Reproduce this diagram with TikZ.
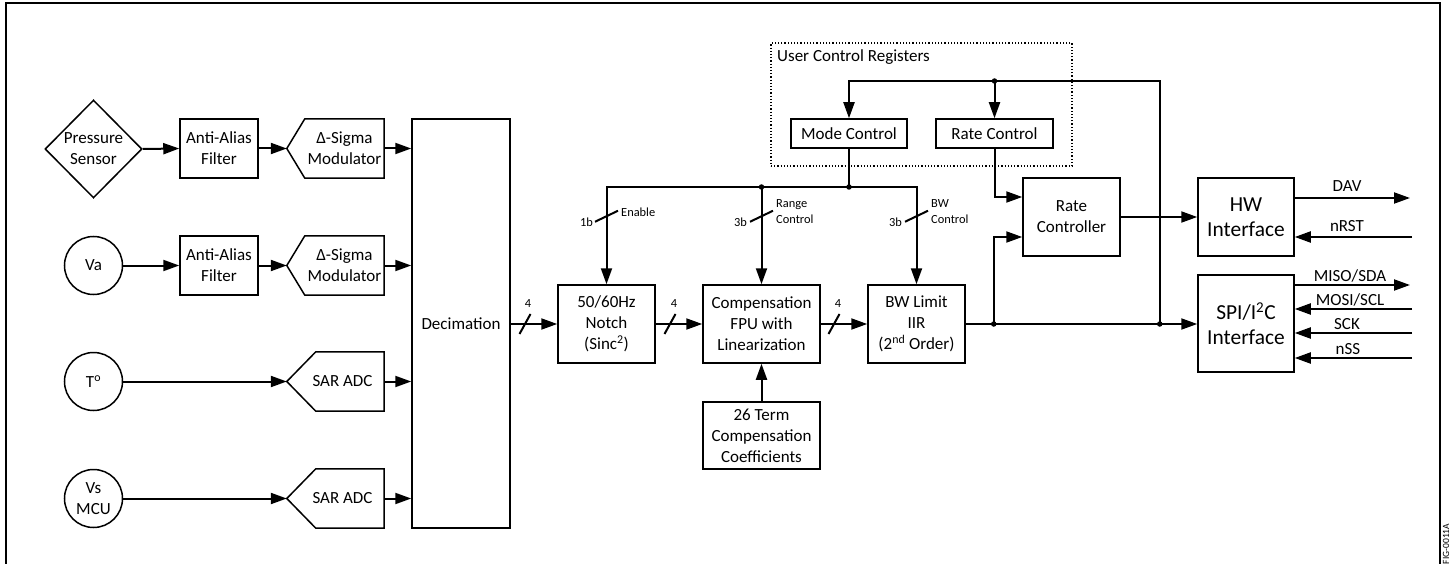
\documentclass[tikz,border=0pt]{standalone}
\usepackage{fontspec}
\setmainfont{Carlito}
\usetikzlibrary{arrows.meta,shapes.geometric,calc}
\begin{document}
\begin{tikzpicture}[x=1pt,y=-1pt,
  every node/.style={font=\fontsize{17}{21}\selectfont, inner sep=0pt, align=center},
  blk/.style={draw, line width=1.5pt, inner sep=0pt},
  outl/.style={line width=1.5pt},
  conn/.style={line width=2pt},
  arr/.style={conn, -{Triangle[length=16pt,width=11pt]}},
  dotj/.style={circle, fill, minimum size=5.5pt, inner sep=0pt},
  small/.style={font=\fontsize{12.4}{16}\selectfont},
  big/.style={font=\fontsize{21.4}{25}\selectfont},
  siglab/.style={anchor=base},
]
\useasboundingbox (0,0) rectangle (1451,564);
% frame
\draw[line width=2pt] (6,570) -- (6,3) -- (1440,3) -- (1440,570);
\node[rotate=90, font=\fontsize{9.5}{10}\selectfont] (fig) at (1446,544) {FIG-0011A};

% sources
\node[blk, diamond, minimum width=97pt, minimum height=98pt] (ps) at (93.5,149) {Pressure\\Sensor};
\node[blk, circle, minimum size=58pt] (va) at (93.5,265.5) {Va};
\node[blk, circle, minimum size=58pt] (tt) at (93.5,381.5) {T\textsuperscript{o}};
\node[blk, circle, minimum size=58pt] (vs) at (93.5,498.5) {Vs\\MCU};

% filters
\node[blk, minimum width=78pt, minimum height=59pt] (aa1) at (219,148.5) {Anti-Alias\\Filter};
\node[blk, minimum width=78pt, minimum height=59pt] (aa2) at (219,265.5) {Anti-Alias\\Filter};

% delta-sigma modulators
\node[minimum width=79pt, minimum height=59pt] (dm1) at (344.5,148.5) {Δ-Sigma\\Modulator};
\coordinate (dm1t) at ([xshift=-18pt]dm1.west);
\draw[outl] (dm1.north west) -- (dm1.north east) -- (dm1.south east) -- (dm1.south west) -- (dm1t) -- cycle;
\node[minimum width=79pt, minimum height=59pt] (dm2) at (344.5,265.5) {Δ-Sigma\\Modulator};
\coordinate (dm2t) at ([xshift=-18pt]dm2.west);
\draw[outl] (dm2.north west) -- (dm2.north east) -- (dm2.south east) -- (dm2.south west) -- (dm2t) -- cycle;

% SAR ADCs
\node[minimum width=83pt, minimum height=59pt] (sa1) at (342.5,381.5) {SAR ADC};
\coordinate (sa1t) at ([xshift=-14pt]sa1.west);
\draw[outl] (sa1.north east) -- (sa1.south east) -- ([xshift=15pt]sa1.south west) -- (sa1t) -- ([xshift=15pt]sa1.north west) -- cycle;
\node[minimum width=83pt, minimum height=59pt] (sa2) at (342.5,498.5) {SAR ADC};
\coordinate (sa2t) at ([xshift=-14pt]sa2.west);
\draw[outl] (sa2.north east) -- (sa2.south east) -- ([xshift=15pt]sa2.south west) -- (sa2t) -- ([xshift=15pt]sa2.north west) -- cycle;

% decimation
\node[blk, minimum width=98pt, minimum height=409pt] (dec) at (461,323.5) {Decimation};

% left connections
\draw[arr] (ps.east) -- (aa1.west);
\draw[arr] (aa1.east) -- (dm1t);
\draw[arr] (dm1.east) -- (dm1.east -| dec.west);
\draw[arr] (va.east) -- (aa2.west);
\draw[arr] (aa2.east) -- (dm2t);
\draw[arr] (dm2.east) -- (dm2.east -| dec.west);
\draw[arr] (tt.east) -- (sa1t);
\draw[arr] (sa1.east) -- (sa1.east -| dec.west);
\draw[arr] (vs.east) -- (sa2t);
\draw[arr] (sa2.east) -- (sa2.east -| dec.west);

% processing chain
\node[blk, minimum width=97pt, minimum height=78pt] (notch) at (606.5,324) {50/60Hz\\Notch\\(Sinc\textsuperscript{2})};
\node[blk, minimum width=117pt, minimum height=78pt] (comp) at (761.5,324) {Compensation\\FPU with\\Linearization};
\node[blk, minimum width=97pt, minimum height=78pt] (bw) at (916.5,324) {BW Limit\\IIR\\(2\textsuperscript{nd} Order)};
\node[blk, minimum width=117pt, minimum height=67pt] (coef) at (761.5,435.5) {26 Term\\Compensation\\Coefficients};

\draw[arr] (notch.west -| dec.east) -- (notch.west);
\draw[arr] (notch.east) -- (comp.west);
\draw[arr] (comp.east) -- (bw.west);
\draw[arr] (coef.north) -- (comp.south);

\coordinate (h1) at (525,324);
\coordinate (h2) at (670,324);
\coordinate (h3) at (834,324);
\draw[conn] ($(h1)+(-5.5,10)$) -- ($(h1)+(5.5,-10)$);
\draw[conn] ($(h2)+(-5.5,10)$) -- ($(h2)+(5.5,-10)$);
\draw[conn] ($(h3)+(-5.5,10)$) -- ($(h3)+(5.5,-10)$);
\node[small] (n4a) at (528,304) {4};
\node[small] (n4b) at (674,304) {4};
\node[small] (n4c) at (838,304) {4};

% user control registers
\node[draw, dotted, line width=1.2pt, minimum width=301pt, minimum height=123pt] (ucr) at (921.5,104.5) {};
\node[anchor=west] (ucrl) at (777,57) {User Control Registers};
\node[blk, minimum width=116pt, minimum height=29pt] (mode) at (849,133.5) {Mode Control};
\node[blk, minimum width=117pt, minimum height=29pt] (rate) at (994.5,133.5) {Rate Control};

% rate controller and interfaces
\node[blk, minimum width=97pt, minimum height=78pt] (rc) at (1071.5,217) {Rate\\Controller};
\node[blk, big, minimum width=96pt, minimum height=78pt] (hw) at (1246,217) {HW\\Interface};
\node[blk, big, minimum width=96pt, minimum height=97pt] (spi) at (1246,323.5) {SPI/I\textsuperscript{2}C\\Interface};

\coordinate (bus) at (0,187);
\coordinate (top) at (0,81);
\path (bw.east) ++(28,0) coordinate (j1);
\path (bw.east) ++(194,0) coordinate (j2);
\coordinate (jt) at (rate.north |- top);

% control bus
\draw[conn] (mode.south) -- (mode.south |- bus);
\draw[arr] (mode.south |- bus) -| (notch.north);
\draw[arr] (mode.south |- bus) -| (bw.north);
\draw[arr] (comp.north |- bus) -- (comp.north);
\node[dotj] (d1) at (mode.south |- bus) {};
\node[dotj] (d2) at (comp.north |- bus) {};

\path (notch.north) ++(0,-68) coordinate (v1);
\path (comp.north) ++(0,-68) coordinate (v2);
\path (bw.north) ++(0,-68) coordinate (v3);
\draw[conn] ($(v1)+(-11.5,5.5)$) -- ($(v1)+(11.5,-5.5)$);
\draw[conn] ($(v2)+(-11.5,5.5)$) -- ($(v2)+(11.5,-5.5)$);
\draw[conn] ($(v3)+(-11.5,5.5)$) -- ($(v3)+(11.5,-5.5)$);
\node[small, anchor=east] (l1b) at (593,222) {1b};
\node[small, anchor=west] (len) at (621,212) {Enable};
\node[small, anchor=east] (l3a) at (747,222) {3b};
\node[small, anchor=west, align=left] (lrc) at (776,212) {Range\\Control};
\node[small, anchor=east] (l3b) at (902,222) {3b};
\node[small, anchor=west, align=left] (lbw) at (931,212) {BW\\Control};

% output and feedback
\draw[arr] (bw.east) -- (bw.east -| spi.west);
\draw[arr] (j1) |- ([yshift=-20pt]rc.west);
\draw[arr] (rate.south) |- ([yshift=20pt]rc.west);
\draw[arr] (rc.east) -- (rc.east -| hw.west);
\draw[arr] (j2) -- (j2 |- top) -| (mode.north);
\draw[arr] (jt) -- (rate.north);
\node[dotj] (d3) at (j1) {};
\node[dotj] (d4) at (j2) {};
\node[dotj] (d5) at (jt) {};

% external signals
\coordinate (dav) at (1410,198);
\coordinate (nrst) at (1412,237);
\coordinate (miso) at (1410,285);
\coordinate (mosi) at (1412,309);
\coordinate (sck) at (1412,333);
\coordinate (nss) at (1412,358);
\draw[arr] (dav -| hw.east) -- (dav);
\draw[arr] (nrst) -- (nrst -| hw.east);
\draw[arr] (miso -| spi.east) -- (miso);
\draw[arr] (mosi) -- (mosi -| spi.east);
\draw[arr] (sck) -- (sck -| spi.east);
\draw[arr] (nss) -- (nss -| spi.east);
\node[siglab] (ldav) at (1347,192) {DAV};
\node[siglab] (lnrst) at (1347,232) {nRST};
\node[siglab] (lmiso) at (1350,281.5) {MISO/SDA};
\node[siglab] (lmosi) at (1350,305.5) {MOSI/SCL};
\node[siglab] (lsck) at (1347,329) {SCK};
\node[siglab] (lnss) at (1348,354) {nSS};
\end{tikzpicture}
\end{document}
